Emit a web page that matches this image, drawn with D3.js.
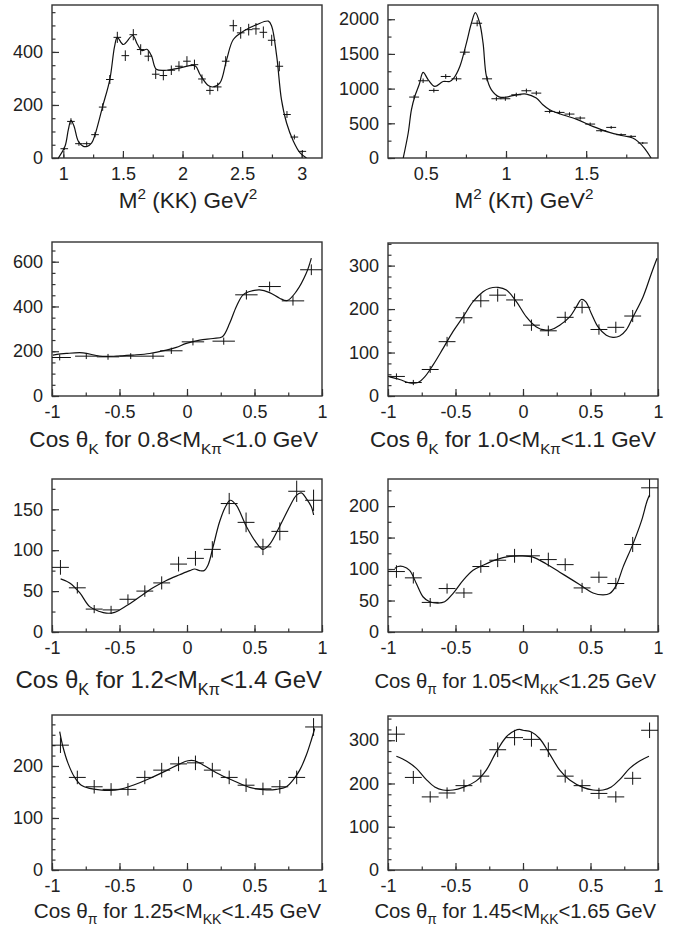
<!DOCTYPE html>
<html>
<head>
<meta charset="utf-8">
<script src="https://cdn.jsdelivr.net/npm/d3@7"></script>
<style>
  body { margin: 0; background: #fff; }
  svg { display: block; }
  .frame { fill: none; stroke: #333; stroke-width: 1.4; }
  .axis path { display: none; }
  .axis line { stroke: #333; stroke-width: 1.2; }
  .axis text { fill: #222; font-family: "Liberation Sans", Arial, Helvetica, sans-serif; font-size: 18px; }
  .fit { fill: none; stroke: #111; stroke-width: 1.2; }
  .err line { stroke: #111; stroke-width: 1; }
  .title { fill: #222; font-family: "Liberation Sans", Arial, Helvetica, sans-serif; }
</style>
</head>
<body>
<div id="chart"></div>
<script>
// Dalitz-plot projections and helicity-angle distributions (data points + fit curve).

// Shared bin centres for the 16-bin cos(theta) histograms.
const cosBins = [-0.9375, -0.8125, -0.6875, -0.5625, -0.4375, -0.3125, -0.1875, -0.0625,
                 0.0625, 0.1875, 0.3125, 0.4375, 0.5625, 0.6875, 0.8125, 0.9375];
const cosTicks = [-1, -0.5, 0, 0.5, 1];

// M^2(KK)
const kkX = [1.008, 1.064, 1.131, 1.196, 1.266, 1.33, 1.39, 1.453, 1.52, 1.587, 1.649, 1.713, 1.775, 1.839, 1.906, 1.97,
             2.037, 2.10, 2.163, 2.23, 2.295, 2.362, 2.426, 2.488, 2.555, 2.616, 2.678, 2.748, 2.812, 2.876, 2.938, 3.005];
const kkY = [35, 138, 54, 54, 88, 192, 296, 455, 386, 465, 409, 384, 316, 311, 331, 346,
             365, 352, 298, 255, 268, 365, 499, 472, 484, 487, 474, 444, 346, 164, 79, 25];
const kkErr = [6, 12, 8, 8, 10, 14, 17, 21, 20, 21, 20, 19, 18, 18, 18, 19,
               19, 19, 17, 16, 16, 19, 22, 22, 22, 22, 22, 21, 19, 13, 9, 5];
const kkFitX = [0.958, 1.014, 1.042, 1.064, 1.09, 1.126, 1.168, 1.2, 1.238, 1.266, 1.33, 1.39, 1.43, 1.453, 1.503, 1.582,
                1.62, 1.66, 1.70, 1.74, 1.78, 1.867, 1.98, 2.105, 2.147, 2.216, 2.258, 2.314, 2.37, 2.426, 2.51, 2.622,
                2.72, 2.748, 2.79, 2.83, 2.873, 2.93, 2.986, 3.04];
const kkFitY = [0, 44, 107, 142, 120, 63, 44, 44, 57, 88, 195, 296, 421, 455, 428, 462,
                430, 405, 410, 385, 335, 331, 340, 348, 315, 273, 268, 283, 371, 447, 478, 503,
                516, 497, 384, 220, 132, 63, 19, 0];
const kkXTicks = [1, 1.5, 2, 2.5, 3];
const kkYTicks = [0, 200, 400];

// M^2(K pi)
const kpiX = [0.427, 0.483, 0.55, 0.624, 0.691, 0.743, 0.82, 0.882, 0.94, 0.996, 1.064, 1.127,
              1.189, 1.272, 1.334, 1.396, 1.463, 1.525, 1.593, 1.656, 1.718, 1.78, 1.853];
const kpiY = [878, 1113, 974, 1175, 1141, 1525, 1942, 1141, 854, 854, 911, 969,
              935, 671, 657, 633, 576, 489, 393, 441, 336, 312, 216];
const kpiErr = [30, 33, 31, 34, 34, 39, 44, 34, 29, 29, 30, 31, 31, 26, 26, 25, 24, 22, 20, 21, 18, 18, 15];
const kpiFitX = [0.359, 0.39, 0.41, 0.431, 0.458, 0.483, 0.515, 0.556, 0.608, 0.649, 0.674, 0.712, 0.753, 0.784,
                 0.809, 0.836, 0.857, 0.878, 0.909, 0.961, 1.002, 1.064, 1.127, 1.189, 1.23, 1.272, 1.334, 1.438,
                 1.541, 1.645, 1.728, 1.79, 1.822, 1.863, 1.905];
const kpiFitY = [0, 360, 695, 887, 1055, 1233, 1127, 1031, 1103, 1103, 1151, 1319, 1655, 1942,
                 2096, 1942, 1655, 1175, 983, 878, 878, 911, 921, 863, 767, 695, 638, 561,
                 456, 369, 321, 288, 240, 144, 0];
const kpiXTicks = [0.5, 1, 1.5];
const kpiYTicks = [0, 500, 1000, 1500, 2000];

// cos theta_K, 0.8 < M(K pi) < 1.0
const c1X = [-0.943, -0.746, -0.585, -0.417, -0.252, -0.116, 0.044, 0.272, 0.44, 0.612, 0.785, 0.921];
const c1Y = [172, 178, 175, 178, 178, 202, 242, 245, 452, 489, 425, 564];
const c1Err = [13, 13, 13, 13, 13, 14, 16, 16, 21, 22, 21, 24];
const c1FitX = [-0.993, -0.894, -0.77, -0.647, -0.523, -0.4, -0.277, -0.153, -0.079, -0.005, 0.094, 0.193,
                0.262, 0.316, 0.365, 0.415, 0.464, 0.538, 0.612, 0.686, 0.741, 0.81, 0.884, 0.921];
const c1FitY = [183, 190, 193, 178, 178, 183, 190, 205, 217, 235, 250, 257,
                265, 325, 399, 452, 467, 474, 462, 437, 426, 467, 549, 616];
const c1YTicks = [0, 200, 400, 600];

// cos theta_K, 1.0 < M(K pi) < 1.1
const c2X = cosBins.slice(0, 15);
const c2Y = [45, 31, 61, 125, 180, 219, 232, 221, 163, 150, 181, 204, 153, 158, 184];
const c2Err = [7, 6, 8, 11, 13, 15, 15, 15, 13, 12, 13, 14, 12, 13, 14];
const c2FitX = [-0.99, -0.914, -0.84, -0.778, -0.728, -0.667, -0.593, -0.519, -0.444, -0.37, -0.296, -0.247,
                -0.185, -0.123, -0.049, 0.025, 0.099, 0.16, 0.21, 0.272, 0.346, 0.395, 0.432, 0.464,
                0.506, 0.556, 0.617, 0.667, 0.716, 0.765, 0.815, 0.889, 0.951, 0.993];
const c2FitY = [44, 38, 30, 31, 44, 71, 109, 148, 182, 217, 240, 248,
                250, 244, 217, 182, 159, 152, 153, 163, 182, 205, 222, 217,
                190, 159, 140, 135, 138, 152, 182, 228, 282, 317];
const c2YTicks = [0, 100, 200, 300];

// cos theta_K, 1.2 < M(K pi) < 1.4
const c3X = cosBins;
const c3Y = [79, 54, 28, 27, 40, 50, 60, 83, 90, 101, 157, 134, 104, 123, 172, 161];
const c3Err = [9, 7, 5, 5, 6, 7, 8, 9, 9, 10, 13, 12, 10, 11, 13, 13];
const c3FitX = [-0.936, -0.869, -0.795, -0.721, -0.647, -0.598, -0.536, -0.449, -0.35, -0.252, -0.153, -0.054,
                0.02, 0.057, 0.094, 0.126, 0.156, 0.193, 0.242, 0.291, 0.321, 0.365, 0.44, 0.514,
                0.563, 0.612, 0.686, 0.76, 0.81, 0.847, 0.884, 0.921, 0.938];
const c3FitY = [65, 60, 48, 31, 25, 23, 24, 32, 43, 54, 63, 70,
                75, 77, 75, 75, 82, 104, 135, 155, 161, 155, 129, 109,
                101, 107, 129, 153, 167, 170, 163, 153, 143];
const c3YTicks = [0, 50, 100, 150];

// cos theta_pi, 1.05 < M(KK) < 1.25
const c4X = cosBins;
const c4Y = [96, 86, 47, 69, 62, 104, 114, 121, 121, 115, 107, 70, 87, 77, 139, 229];
const c4Err = [10, 9, 7, 8, 8, 10, 11, 11, 11, 11, 10, 8, 9, 9, 12, 15];
const c4FitX = [-0.95, -0.926, -0.889, -0.84, -0.79, -0.741, -0.691, -0.63, -0.58, -0.519, -0.444, -0.37,
                -0.296, -0.198, -0.099, -0.012, 0.074, 0.173, 0.272, 0.37, 0.444, 0.519, 0.593, 0.642,
                0.691, 0.741, 0.815, 0.877, 0.919, 0.938];
const c4FitY = [101, 104, 104, 98, 77, 56, 48, 46, 48, 61, 82, 98,
                106, 115, 120, 121, 119, 108, 95, 82, 72, 62, 59, 61,
                74, 103, 140, 176, 208, 218];
const c4YTicks = [0, 50, 100, 150, 200];

// cos theta_pi, 1.25 < M(KK) < 1.45
const c5X = cosBins;
const c5Y = [240, 178, 160, 155, 155, 178, 192, 204, 206, 192, 178, 163, 156, 160, 178, 275];
const c5Err = [15, 13, 13, 12, 12, 13, 14, 14, 14, 14, 13, 13, 12, 13, 13, 17];
const c5FitX = [-0.943, -0.919, -0.881, -0.832, -0.783, -0.721, -0.647, -0.573, -0.499, -0.4, -0.277, -0.153,
                -0.054, 0.007, 0.057, 0.119, 0.217, 0.341, 0.464, 0.588, 0.662, 0.736, 0.785, 0.835,
                0.884, 0.921, 0.946];
const c5FitY = [266, 237, 205, 178, 163, 157, 154, 153, 155, 163, 176, 191,
                204, 210, 210, 202, 187, 172, 159, 154, 155, 160, 173, 192,
                221, 250, 272];
const c5YTicks = [0, 100, 200];

// cos theta_pi, 1.45 < M(KK) < 1.65
const c6X = cosBins;
const c6Y = [314, 214, 169, 178, 195, 217, 278, 306, 302, 278, 217, 195, 177, 169, 212, 323];
const c6Err = [18, 15, 13, 13, 14, 15, 17, 18, 17, 17, 15, 14, 13, 13, 15, 18];
const c6FitX = [-0.938, -0.864, -0.79, -0.716, -0.654, -0.593, -0.519, -0.444, -0.346, -0.272, -0.198, -0.123,
                -0.062, -0.025, 0.0, 0.062, 0.123, 0.198, 0.272, 0.346, 0.444, 0.519, 0.593, 0.654,
                0.716, 0.79, 0.864, 0.933];
const c6FitY = [263, 252, 235, 209, 192, 185, 185, 191, 206, 231, 273, 308,
                322, 325, 323, 319, 304, 268, 231, 208, 191, 185, 185, 192,
                209, 235, 252, 263];
const c6YTicks = [0, 100, 200, 300];

// Axis titles as [text, 'sup' | 'sub' | undefined] runs.
const kkTitle = [['M'], ['2', 'sup'], [' (KK) GeV'], ['2', 'sup']];
const kpiTitle = [['M'], ['2', 'sup'], [' (K\u03c0) GeV'], ['2', 'sup']];
const c1Title = [['Cos \u03b8'], ['K', 'sub'], [' for 0.8<M'], ['K\u03c0', 'sub'], ['<1.0 GeV']];
const c2Title = [['Cos \u03b8'], ['K', 'sub'], [' for 1.0<M'], ['K\u03c0', 'sub'], ['<1.1 GeV']];
const c3Title = [['Cos \u03b8'], ['K', 'sub'], [' for 1.2<M'], ['K\u03c0', 'sub'], ['<1.4 GeV']];
const c4Title = [['Cos \u03b8'], ['\u03c0', 'sub'], [' for 1.05<M'], ['KK', 'sub'], ['<1.25 GeV']];
const c5Title = [['Cos \u03b8'], ['\u03c0', 'sub'], [' for 1.25<M'], ['KK', 'sub'], ['<1.45 GeV']];
const c6Title = [['Cos \u03b8'], ['\u03c0', 'sub'], [' for 1.45<M'], ['KK', 'sub'], ['<1.65 GeV']];

// Panel layout: frame box [x0, y0, x1, y1], axis ranges, minor tick steps, title placement.
const panels = [
  {x: kkX, y: kkY, err: kkErr, half: 0.032, fitX: kkFitX, fitY: kkFitY, xTicks: kkXTicks, yTicks: kkYTicks,
   title: kkTitle, box: [52, 5, 322, 158], xDomain: [0.905, 3.17], yDomain: [0, 577], xMinor: 0.25, yMinor: 50,
   titlePos: {x: 188, y: 208, anchor: 'middle', size: 22.5}},
  {x: kpiX, y: kpiY, err: kpiErr, half: 0.031, fitX: kpiFitX, fitY: kpiFitY, xTicks: kpiXTicks, yTicks: kpiYTicks,
   title: kpiTitle, box: [388, 5, 658, 158], xDomain: [0.264, 1.948], yDomain: [0, 2205], xMinor: 0.25, yMinor: 250,
   titlePos: {x: 524, y: 208, anchor: 'middle', size: 22.5}},
  {x: c1X, y: c1Y, err: c1Err, half: 0.083, fitX: c1FitX, fitY: c1FitY, xTicks: cosTicks, yTicks: c1YTicks,
   title: c1Title, box: [52, 242, 322, 396], xDomain: [-1, 1], yDomain: [0, 688], xMinor: 0.25, yMinor: 50,
   titlePos: {x: 318, y: 447, anchor: 'end', size: 22.6}},
  {x: c2X, y: c2Y, err: c2Err, half: 0.0625, fitX: c2FitX, fitY: c2FitY, xTicks: cosTicks, yTicks: c2YTicks,
   title: c2Title, box: [388, 243, 658, 396], xDomain: [-1, 1], yDomain: [0, 352], xMinor: 0.25, yMinor: 25,
   titlePos: {x: 656, y: 447, anchor: 'end', size: 22.4}},
  {x: c3X, y: c3Y, err: c3Err, half: 0.0625, fitX: c3FitX, fitY: c3FitY, xTicks: cosTicks, yTicks: c3YTicks,
   title: c3Title, box: [52, 479, 322, 632], xDomain: [-1, 1], yDomain: [0, 187], xMinor: 0.25, yMinor: 25,
   titlePos: {x: 322, y: 688, anchor: 'end', size: 24}},
  {x: c4X, y: c4Y, err: c4Err, half: 0.0625, fitX: c4FitX, fitY: c4FitY, xTicks: cosTicks, yTicks: c4YTicks,
   title: c4Title, box: [388, 479, 658, 632], xDomain: [-1, 1], yDomain: [0, 243], xMinor: 0.25, yMinor: 25,
   titlePos: {x: 656, y: 688, anchor: 'end', size: 20.3}},
  {x: c5X, y: c5Y, err: c5Err, half: 0.0625, fitX: c5FitX, fitY: c5FitY, xTicks: cosTicks, yTicks: c5YTicks,
   title: c5Title, box: [52, 715, 322, 870], xDomain: [-1, 1], yDomain: [0, 298], xMinor: 0.25, yMinor: 20,
   titlePos: {x: 321, y: 918, anchor: 'end', size: 20.7}},
  {x: c6X, y: c6Y, err: c6Err, half: 0.0625, fitX: c6FitX, fitY: c6FitY, xTicks: cosTicks, yTicks: c6YTicks,
   title: c6Title, box: [388, 716, 658, 870], xDomain: [-1, 1], yDomain: [0, 356], xMinor: 0.25, yMinor: 25,
   titlePos: {x: 656, y: 918, anchor: 'end', size: 20.3}}
];

const svg = d3.select('#chart').append('svg')
  .attr('width', 686)
  .attr('height', 933);

// Minor tick positions on a fixed step inside the domain.
function minorTicks(domain, step){
  const start = Math.ceil(domain[0] / step - 1e-9);
  const end = Math.floor(domain[1] / step + 1e-9);
  return d3.range(start, end + 1).map(k => Math.round(k * step * 1e6) / 1e6);
}

panels.forEach((p, i) => {
  const [x0, y0, x1, y1] = p.box;
  const x = d3.scaleLinear().domain(p.xDomain).range([x0, x1]);
  const y = d3.scaleLinear().domain(p.yDomain).range([y1, y0]);
  const g = svg.append('g').attr('class', 'panel');

  g.append('clipPath').attr('id', `clip${i}`)
    .append('rect')
    .attr('x', x0).attr('y', y0)
    .attr('width', x1 - x0).attr('height', y1 - y0);

  // Ticks point inward, as in ROOT: minor ones first, labelled majors on top.
  g.append('g').attr('class', 'axis')
    .attr('transform', `translate(0,${y1})`)
    .call(d3.axisBottom(x).tickValues(minorTicks(p.xDomain, p.xMinor)).tickSize(-3.5).tickFormat(''));
  g.append('g').attr('class', 'axis')
    .attr('transform', `translate(0,${y1})`)
    .call(d3.axisBottom(x).tickValues(p.xTicks).tickSize(-7).tickPadding(9).tickFormat(d => String(d)));
  g.append('g').attr('class', 'axis')
    .attr('transform', `translate(${x0},0)`)
    .call(d3.axisLeft(y).tickValues(minorTicks(p.yDomain, p.yMinor)).tickSize(-3.5).tickFormat(''));
  g.append('g').attr('class', 'axis')
    .attr('transform', `translate(${x0},0)`)
    .call(d3.axisLeft(y).tickValues(p.yTicks).tickSize(-7).tickPadding(9).tickFormat(d => String(d)));

  g.append('rect').attr('class', 'frame')
    .attr('x', x0).attr('y', y0)
    .attr('width', x1 - x0).attr('height', y1 - y0);

  const plot = g.append('g').attr('clip-path', `url(#clip${i})`);

  // Fit curve.
  const fit = p.fitX.map((v, k) => [v, p.fitY[k]]);
  plot.append('path').attr('class', 'fit')
    .attr('d', d3.line()
      .x(d => x(d[0]))
      .y(d => y(d[1]))
      .curve(d3.curveCatmullRom.alpha(0.5))(fit));

  // Data points as error crosses.
  const pts = p.x.map((v, k) => ({x: v, y: p.y[k], e: p.err[k]}));
  const cross = plot.selectAll('g.err').data(pts).join('g').attr('class', 'err');
  cross.append('line')
    .attr('x1', d => x(d.x - p.half)).attr('x2', d => x(d.x + p.half))
    .attr('y1', d => y(d.y)).attr('y2', d => y(d.y));
  cross.append('line')
    .attr('x1', d => x(d.x)).attr('x2', d => x(d.x))
    .attr('y1', d => y(d.y - d.e)).attr('y2', d => y(d.y + d.e));

  // Axis title with sub/superscripts.
  const t = p.titlePos;
  const text = g.append('text').attr('class', 'title')
    .attr('x', t.x).attr('y', t.y)
    .attr('text-anchor', t.anchor)
    .style('font-size', `${t.size}px`);
  let shift = 0;
  p.title.forEach(([str, kind]) => {
    const target = kind === 'sup' ? -0.42 * t.size : kind === 'sub' ? 0.3 * t.size : 0;
    text.append('tspan')
      .attr('dy', target - shift)
      .style('font-size', kind ? `${(t.size * 0.68).toFixed(1)}px` : null)
      .text(str);
    shift = target;
  });
});
</script>
</body>
</html>
